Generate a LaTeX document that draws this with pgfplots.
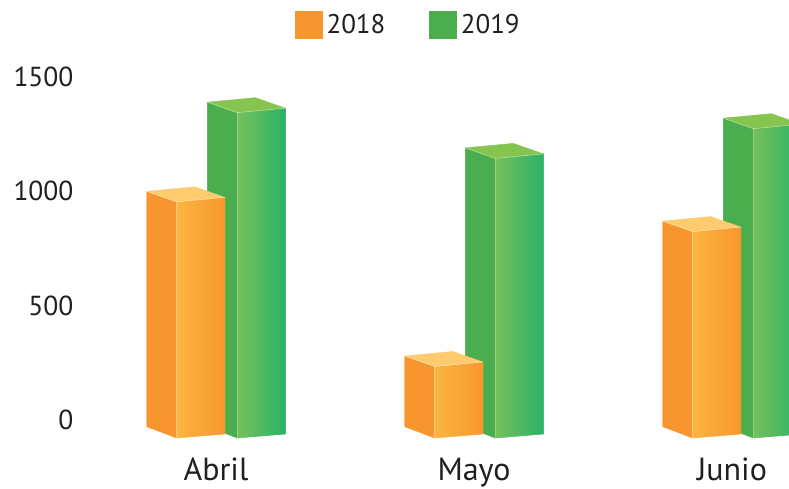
\documentclass[border=0pt]{standalone}
\usepackage{fontspec}
\setmainfont{PT Sans}
\usepackage{pgfplots}
\usepackage{pgfplotstable}
\pgfplotsset{compat=1.18}

\definecolor{txt}{HTML}{231F20}
\definecolor{oside}{HTML}{F7962F}
\definecolor{ofl}{HTML}{FBB442}
\definecolor{ofr}{HTML}{F8992F}
\definecolor{otop}{HTML}{FFCB6F}
\definecolor{gside}{HTML}{4AAE4F}
\definecolor{gfl}{HTML}{74C05A}
\definecolor{gfr}{HTML}{2DB266}
\definecolor{gtop}{HTML}{85C54F}

\pgfplotstableread{
x v
0 1000
1 280
2 870
}\dataA
\pgfplotstableread{
x v
0 1390
1 1190
2 1320
}\dataB

% 3d box drawn from the value point (back-left top corner); \bv is the value
\newcommand\barbox[5]{%
  \pgfmathsetmacro\yb{-\bv*0.22867}%
  \pgfmathsetmacro\ys{\yb-6.7}%
  \pgfmathsetmacro\yfl{\yb-18}%
  \pgfmathsetmacro\xa{#5}%
  \pgfmathsetmacro\xb{#5+30}%
  \pgfmathsetmacro\xc{#5+78}%
  \pgfmathsetmacro\xd{#5+48}%
  \fill[#1] (\xa pt,0pt) -- (\xb pt,-10.5pt) -- (\xb pt,\yfl pt) -- (\xa pt,\ys pt) -- cycle;
  % front face: horizontal gradient in 16 strips
  \foreach \i in {0,...,15}{%
    \pgfmathsetmacro\pa{\xb+3*\i}%
    \pgfmathsetmacro\pb{\xb+3*\i+3.3}%
    \pgfmathsetmacro\ta{-10.5+4.5*\i/16}%
    \pgfmathsetmacro\tb{-10.5+4.5*(\i+1)/16}%
    \pgfmathsetmacro\ba{\yfl+4*\i/16}%
    \pgfmathsetmacro\bbb{\yfl+4*(\i+1)/16}%
    \pgfmathtruncatemacro\mix{100-100*\i/15}%
    \fill[#2!\mix!#3] (\pa pt,\ta pt) -- (\pb pt,\tb pt) -- (\pb pt,\bbb pt) -- (\pa pt,\ba pt) -- cycle;
  }%
  \fill[#4] (\xa pt,0pt) -- (\xb pt,-10.5pt) -- (\xc pt,-6pt) -- (\xd pt,4.5pt) -- cycle;
  \draw[white, opacity=0.4, line width=0.6pt] (\xa pt,0pt) -- (\xb pt,-10.5pt) -- (\xc pt,-6pt) (\xb pt,-10.5pt) -- (\xb pt,\yfl pt);
}
\pgfdeclareplotmark{barA}{\barbox{oside}{ofl}{ofr}{otop}{-69.3}}
\pgfdeclareplotmark{barB}{\barbox{gside}{gfl}{gfr}{gtop}{-8.7}}

\begin{document}
\begin{tikzpicture}
\begin{axis}[
    x=258pt, y=0.22867pt,
    xmin=-0.5078, xmax=2.2209,
    ymin=-100, ymax=1750,
    clip=false,
    axis line style={draw=none},
    major tick length=0pt,
    tick style={draw=none},
    xtick={0,1,2},
    xticklabels={Abril, Mayo, Junio},
    ytick={0,500,1000,1500},
    scaled y ticks=false,
    /pgf/number format/1000 sep={},
    /pgf/number format/assume math mode=true,
    ticklabel style={text=txt},
    x tick label style={font=\fontsize{32}{36}\selectfont, anchor=base, inner sep=0pt, yshift=-37.5pt},
    y tick label style={font=\fontsize{27.5}{31}\selectfont, anchor=east, xshift=-8pt},
    scatter/use mapped color={draw=none, fill=none},
    legend style={
        at={(0.458,0.989)}, anchor=center,
        draw=none, fill=none,
        legend columns=2,
        font=\fontsize{27}{31}\selectfont,
        text=txt,
        nodes={inner sep=0pt},
        /tikz/every odd column/.append style={column sep=4pt},
        /tikz/every even column/.append style={column sep=44pt}
    }
]
\addplot[scatter, only marks, mark=barB, forget plot,
    visualization depends on={rawy \as \bv}] table[x=x, y=v] {\dataB};
\addplot[scatter, only marks, mark=barA, forget plot,
    visualization depends on={rawy \as \bv}] table[x=x, y=v] {\dataA};

\addlegendimage{legend image code/.code={\fill[oside] (0pt,-13.5pt) rectangle (27pt,13.5pt);}}
\addlegendentry{2018}
\addlegendimage{legend image code/.code={\fill[gside] (0pt,-13.5pt) rectangle (27pt,13.5pt);}}
\addlegendentry{2019}

\coordinate (bbsw) at (axis cs:-0.8372,-301.7);
\coordinate (bbne) at (axis cs:2.2209,1836.7);
\end{axis}
\pgfresetboundingbox
\path[use as bounding box] (bbsw) rectangle (bbne);
\end{tikzpicture}
\end{document}
